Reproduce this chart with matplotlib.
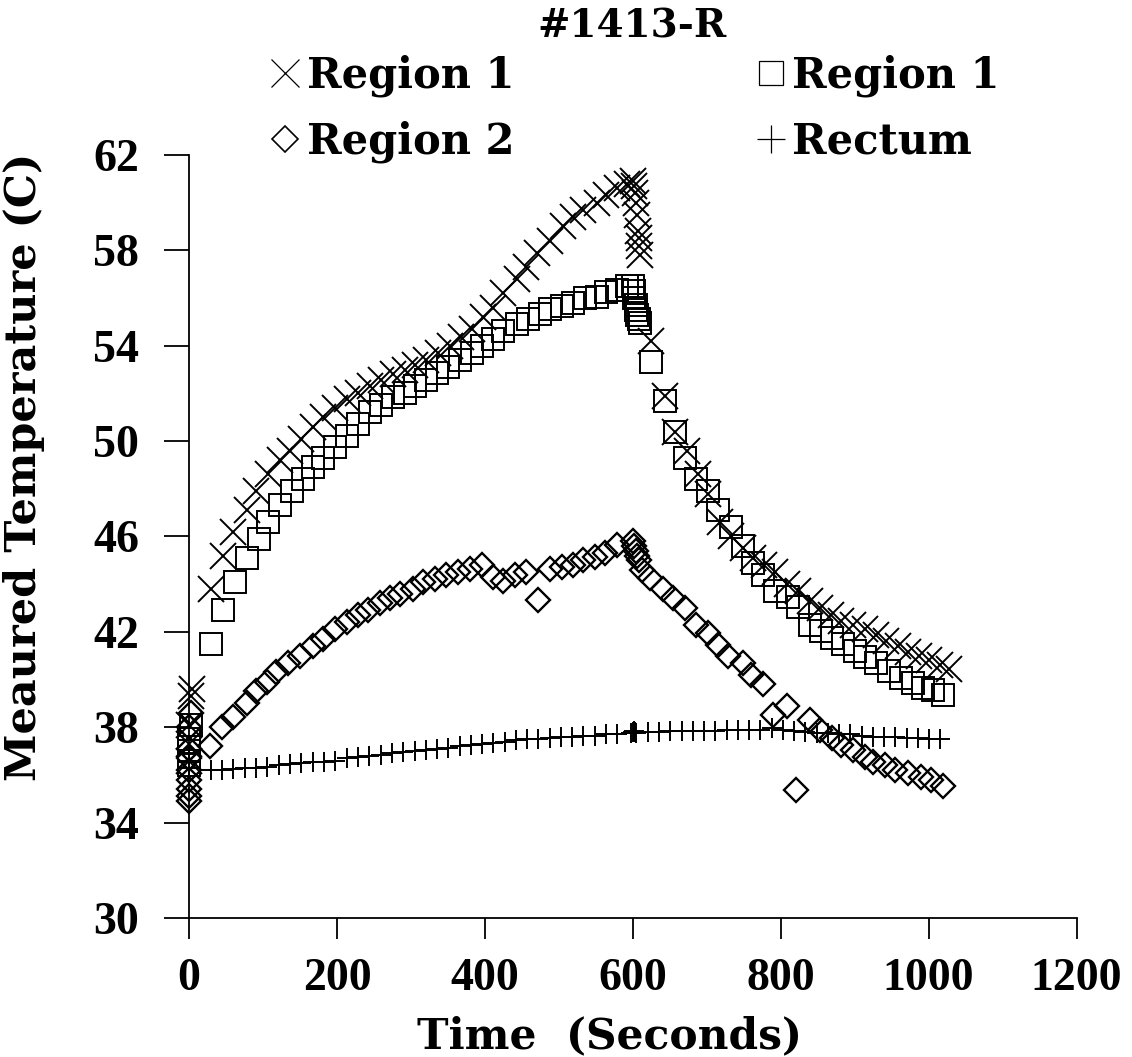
import matplotlib
matplotlib.use("Agg")
import matplotlib.pyplot as plt
from matplotlib.lines import Line2D

# Temperature readings (time in seconds, temperature in C)
region1_x = [(0, 36.6), (0, 37.3), (0, 38.1), (2, 39.3), (4, 39.6), (30, 43.8), (46, 45.2),
             (60, 46.2), (78, 47.1), (91, 47.9), (107, 48.6), (123, 49.2), (136, 49.6),
             (152, 50.1), (168, 50.6), (181, 51.0), (197, 51.4), (213, 51.75), (229, 52.0),
             (245, 52.3), (260, 52.55), (276, 52.8), (292, 53.0), (306, 53.2), (321, 53.4),
             (337, 53.7), (353, 54.0), (368, 54.35), (382, 54.7), (398, 55.2), (411, 55.6),
             (425, 56.2), (443, 56.8), (456, 57.3), (470, 57.9), (488, 58.4), (506, 59.0),
             (519, 59.4), (533, 59.7), (551, 60.0), (564, 60.3), (578, 60.6), (592, 60.8),
             (600, 60.9), (602, 60.7), (603, 60.4), (605, 60.0), (606, 59.5), (607, 58.8),
             (608, 58.5), (609, 58.2), (610, 57.8), (625, 54.2), (643, 51.9), (657, 50.4),
             (673, 49.6), (688, 48.6), (702, 47.8), (718, 46.6), (733, 46.0), (749, 45.5),
             (763, 45.1), (778, 44.8), (792, 44.5), (808, 44.0), (823, 43.7), (839, 43.3),
             (853, 43.0), (868, 42.7), (882, 42.45), (898, 42.3), (914, 42.1), (929, 41.85),
             (943, 41.6), (958, 41.4), (972, 41.15), (987, 41.0), (1001, 40.8), (1015, 40.6),
             (1028, 40.45)]

region1_sq = [(0, 36.4), (0, 37.0), (0, 37.5), (3, 38.1), (30, 41.5), (46, 42.9), (62, 44.1),
              (78, 45.1), (94, 45.9), (107, 46.6), (123, 47.3), (139, 47.9), (154, 48.4),
              (168, 48.9), (181, 49.3), (197, 49.75), (213, 50.2), (229, 50.7), (245, 51.2),
              (260, 51.5), (276, 51.85), (292, 52.0), (306, 52.3), (321, 52.55), (335, 52.85),
              (350, 53.1), (366, 53.4), (382, 53.7), (396, 54.0), (411, 54.3), (425, 54.6),
              (443, 54.9), (458, 55.1), (474, 55.35), (488, 55.55), (504, 55.65), (519, 55.8),
              (535, 56.0), (551, 56.05), (564, 56.25), (578, 56.35), (592, 56.5), (600, 56.5),
              (601, 56.3), (602, 56.0), (604, 55.7), (605, 55.5), (606, 55.3), (608, 55.1),
              (610, 54.95), (625, 53.3), (643, 51.7), (657, 50.4), (670, 49.3), (686, 48.4),
              (702, 47.9), (715, 47.1), (733, 46.4), (749, 45.6), (763, 44.9), (776, 44.4),
              (792, 43.7), (810, 43.45), (823, 43.05), (839, 42.3), (855, 42.05), (869, 41.75),
              (884, 41.5), (900, 41.2), (914, 40.95), (929, 40.7), (947, 40.35), (963, 40.05),
              (979, 39.85), (992, 39.65), (1006, 39.55), (1019, 39.35)]

region2 = [(0, 34.9), (0, 35.1), (0, 35.4), (0, 35.8), (0, 36.2), (0, 36.7), (0, 37.1),
           (0, 38.0), (2, 38.6), (28, 37.2), (44, 38.0), (60, 38.45), (78, 39.0), (91, 39.5),
           (105, 39.9), (118, 40.3), (134, 40.7), (150, 41.0), (168, 41.4), (181, 41.7),
           (197, 42.1), (213, 42.4), (229, 42.7), (242, 42.9), (258, 43.2), (272, 43.4),
           (285, 43.6), (303, 43.8), (317, 44.1), (332, 44.2), (348, 44.4), (364, 44.5),
           (380, 44.65), (396, 44.8), (411, 44.3), (425, 44.15), (441, 44.4), (456, 44.5),
           (472, 43.35), (488, 44.65), (504, 44.7), (519, 44.8), (533, 45.0), (549, 45.15),
           (562, 45.3), (578, 45.65), (600, 45.8), (602, 45.6), (604, 45.4), (606, 45.2),
           (608, 45.0), (612, 44.6), (623, 44.25), (641, 43.8), (654, 43.4), (670, 43.0),
           (686, 42.3), (702, 41.95), (715, 41.45), (729, 41.0), (749, 40.7), (760, 40.2),
           (776, 39.8), (790, 38.5), (808, 38.9), (821, 35.35), (839, 38.3), (853, 37.9),
           (869, 37.55), (882, 37.25), (898, 37.05), (914, 36.75), (925, 36.55), (941, 36.4),
           (954, 36.2), (972, 36.1), (990, 35.9), (1003, 35.8), (1019, 35.55)]

rectum_time = [0, 0, 0, 30, 45, 60, 76, 91, 106, 121, 137, 152, 167,
               182, 198, 213, 228, 244, 259, 274, 289, 305, 320,
               335, 350, 366, 381, 396, 411, 427, 442, 457, 472,
               488, 503, 518, 533, 549, 564, 579,
               598, 600, 601, 603, 605,
               620, 635, 650, 666, 681, 696, 711, 727, 742, 757,
               772, 788, 803, 818, 833, 849, 864, 879, 894, 910,
               925, 940, 955, 971, 986, 1001, 1016]
rectum_temp = [36.3, 36.6, 36.9, 36.2, 36.2, 36.25, 36.3, 36.3, 36.35, 36.4, 36.45, 36.5, 36.55,
               36.55, 36.6, 36.7, 36.75, 36.8, 36.85, 36.9, 36.95, 37.0, 37.05,
               37.1, 37.15, 37.2, 37.25, 37.3, 37.35, 37.4, 37.45, 37.5, 37.5,
               37.55, 37.6, 37.6, 37.65, 37.65, 37.7, 37.7,
               37.75, 37.8, 37.85, 37.8, 37.75,
               37.8, 37.8, 37.85, 37.85, 37.85, 37.85, 37.85, 37.9, 37.9, 37.9,
               37.9, 37.95, 37.9, 37.85, 37.8, 37.75, 37.75, 37.7, 37.7, 37.65,
               37.6, 37.6, 37.6, 37.55, 37.55, 37.5, 37.5]

legend_labels = ["Region 1", "Region 2", "Region 1", "Rectum"]
x_ticks = [0, 200, 400, 600, 800, 1000, 1200]
y_ticks = [30, 34, 38, 42, 46, 50, 54, 58, 62]

FONT = "DejaVu Serif"
TICK_FONT = "Liberation Serif"
plt.rcParams["font.family"] = FONT
plt.rcParams["font.weight"] = "bold"

fig = plt.figure(figsize=(11.32, 10.57), dpi=100)
ax = fig.add_axes([0.167, 0.1315, 0.784, 0.7219])

def unzip(pairs):
    return [p[0] for p in pairs], [p[1] for p in pairs]

t, v = unzip(region1_sq)
ax.plot(t, v, ls="none", marker="s", ms=15.5, mfc="none", mec="black", mew=1.4, clip_on=False)
t, v = unzip(region2)
ax.plot(t, v, ls="none", marker="D", ms=12.5, mfc="none", mec="black", mew=1.7, clip_on=False)
t, v = unzip(region1_x)
ax.plot(t, v, ls="none", marker="x", ms=19, mec="black", mew=1.4, clip_on=False)
ax.plot(rectum_time, rectum_temp, ls="none", marker="+", ms=14, mec="black", mew=1.4,
        clip_on=False)

ax.set_xlim(0, 1200)
ax.set_ylim(30, 62)
ax.set_xticks(x_ticks)
ax.set_yticks(y_ticks)
ax.spines["top"].set_visible(False)
ax.spines["right"].set_visible(False)
for s in ("left", "bottom"):
    ax.spines[s].set_linewidth(1.3)
ax.tick_params(axis="x", direction="out", length=15, width=1.3, pad=14)
ax.tick_params(axis="y", direction="out", length=18, width=1.3, pad=18)
for lab in ax.get_xticklabels() + ax.get_yticklabels():
    lab.set_fontfamily(TICK_FONT)
    lab.set_fontweight("bold")
    lab.set_fontsize(33)

ax.set_xlabel("Time  (Seconds)", fontsize=30.5, fontweight="bold", va="top")
ax.xaxis.set_label_coords(0.474, -0.128)
ax.set_ylabel("Meaured Temperature (C)", fontsize=31, fontweight="bold")
ax.yaxis.set_label_coords(-0.162, 0.591)

fig.text(0.558, 0.993, "#1413-R", ha="center", va="top", fontsize=28, fontweight="bold")

handles = [
    Line2D([], [], ls="none", marker="x", ms=20, mew=0.9, color="black"),
    Line2D([], [], ls="none", marker="D", ms=13, mew=1.2, mfc="none", color="black"),
    Line2D([], [], ls="none", marker="s", ms=17, mew=0.9, mfc="none", color="black"),
    Line2D([], [], ls="none", marker="+", ms=20, mew=0.9, color="black"),
]
fig.legend(handles, legend_labels, ncol=2, loc="upper left", bbox_to_anchor=(0.219, 0.968),
           frameon=False, handlelength=0.8, handletextpad=0.12,
           columnspacing=5.75, labelspacing=0.57, borderpad=0,
           prop={"family": FONT, "weight": "bold", "size": 30})

fig.savefig("out.png", dpi=100)
